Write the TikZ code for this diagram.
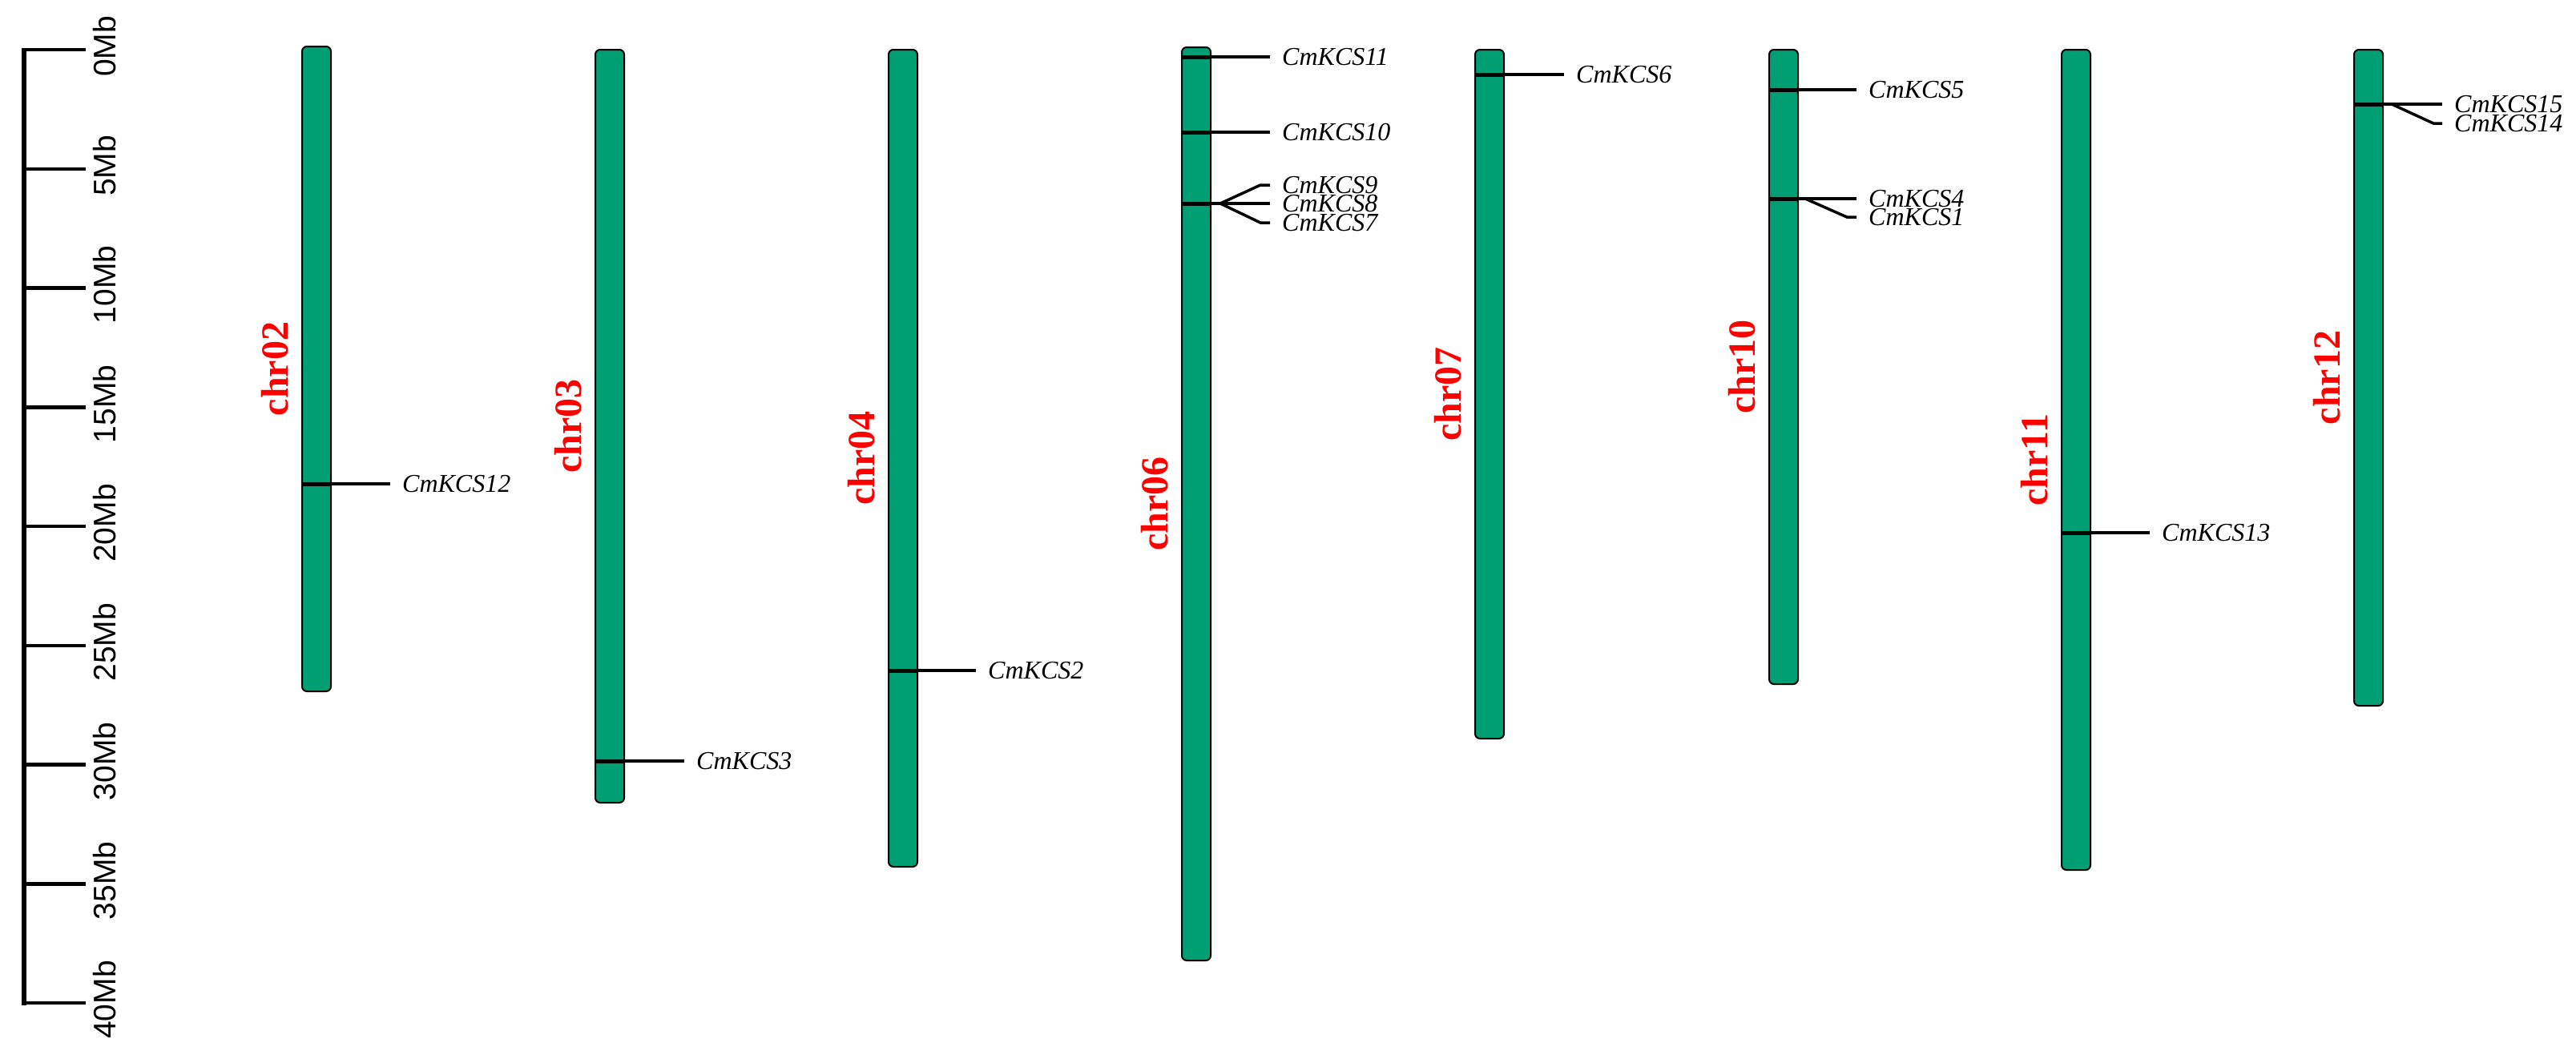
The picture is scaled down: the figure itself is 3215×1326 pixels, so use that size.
\documentclass[tikz,border=0pt]{standalone}
\usepackage{fontspec}
\setmainfont{Liberation Serif}
\newfontfamily\rulerfont{Liberation Sans}
\definecolor{chrgreen}{RGB}{0,158,115}
\tikzset{
 chrbar/.style={draw=black, line width=2pt, fill=chrgreen, rounded corners=6pt, minimum width=36pt, anchor=north west, inner sep=0pt},
 chrlab/.style={text=red, font=\fontsize{48}{56}\selectfont\bfseries, rotate=90, inner sep=0pt},
 band/.style={line width=5pt},
 conn/.style={line width=3.5pt},
 genelab/.style={anchor=west, inner xsep=15pt, inner ysep=0pt, font=\fontsize{32}{38}\selectfont\itshape},
 ticko/.style={line width=4.5pt},
 mblab/.style={font=\rulerfont\fontsize{39}{45}\selectfont, rotate=90, inner sep=0pt},
}
\newcommand\chrom[5]{% name, x, top, height, label
  \node[chrbar, minimum height=#4pt] (#1) at (#2,#3) {};
  \node[chrlab] (l#1) at ([xshift=-52pt]#1.center) {#5};
}
\newcommand\gene[5]{% chrom, y, line end x, name, text
  \draw[band] (#1.west |- 0,#2) -- (#1.east |- 0,#2);
  \node[genelab] (#4) at (#3,#2) {#5};
  \draw[conn] (#1.east |- 0,#2) -- (#4.west);
}
\newcommand\fangene[7]{% chrom, y, x1, x2, ytarget, endx, name/text
  \node[genelab] (#7) at (#6,#5) {#7};
  \draw[conn] (#1.east |- 0,#2) -- (#3,#2) -- (#4,#5) -- (#7.west);
}
\begin{document}
\begin{tikzpicture}[x=1pt,y=-1pt]
\useasboundingbox (0,0) rectangle (3215,1326);
% ruler
\coordinate (rtop) at (30,60);
\coordinate (rbot) at (30,1255);
\draw[line width=5.5pt] (rtop) -- (rbot);
\foreach \i in {0,...,8}{
  \pgfmathsetmacro\yy{62+\i*148.75}
  \pgfmathtruncatemacro\mb{\i*5}
  \coordinate (t\i) at (30,\yy);
  \draw[ticko] (t\i) -- ++(77,0);
  \node[mblab] (m\i) at (131,\yy-4) {\mb Mb};
}
% chromosomes
\chrom{c02}{376}{57}{805}{chr02}
\chrom{c03}{742}{61}{940}{chr03}
\chrom{c04}{1108}{61}{1020}{chr04}
\chrom{c06}{1474}{58}{1140}{chr06}
\chrom{c07}{1840}{61}{860}{chr07}
\chrom{c10}{2207}{61}{792}{chr10}
\chrom{c11}{2572}{61}{1024}{chr11}
\chrom{c12}{2937}{61}{819}{chr12}
% genes
\gene{c02}{604}{487}{g12}{CmKCS12}
\gene{c03}{950}{854}{g3}{CmKCS3}
\gene{c04}{837}{1218}{g2}{CmKCS2}
\gene{c06}{71}{1585}{g11}{CmKCS11}
\gene{c06}{165}{1585}{g10}{CmKCS10}
\gene{c06}{254}{1585}{g8}{CmKCS8}
\fangene{c06}{254}{1523}{1573}{231}{1585}{CmKCS9}
\fangene{c06}{254}{1523}{1573}{278}{1585}{CmKCS7}
\gene{c07}{93}{1952}{g6}{CmKCS6}
\gene{c10}{112}{2317}{g5}{CmKCS5}
\gene{c10}{248}{2317}{g4}{CmKCS4}
\fangene{c10}{248}{2253}{2305}{271}{2317}{CmKCS1}
\gene{c11}{665}{2683}{g13}{CmKCS13}
\gene{c12}{130}{3048}{g15}{CmKCS15}
\fangene{c12}{130}{2985}{3037}{154}{3048}{CmKCS14}
\end{tikzpicture}
\end{document}
